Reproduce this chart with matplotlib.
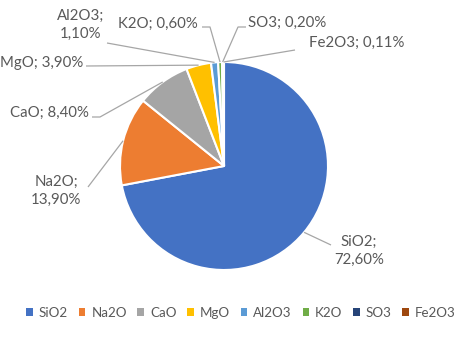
import matplotlib
matplotlib.use('Agg')
import matplotlib.pyplot as plt
from matplotlib.patches import Patch
import numpy as np

plt.rcParams['font.family'] = ['Lato', 'DejaVu Sans']

names = ['SiO2', 'Na2O', 'CaO', 'MgO', 'Al2O3', 'K2O', 'SO3', 'Fe2O3']
values = [72.60, 13.90, 8.40, 3.90, 1.10, 0.60, 0.20, 0.11]
colors = ['#4472C4', '#ED7D31', '#A5A5A5', '#FFC000',
          '#5B9BD5', '#70AD47', '#264478', '#9E480E']

def fmt(v):
    return f"{v:.2f}".replace('.', ',') + '%'

W, H = 474, 338
fig = plt.figure(figsize=(W / 100, H / 100), dpi=100)
ax = fig.add_axes([0, 0, 1, 1])

cx, cy, r = 224, H - 166, 104
wedges, _ = ax.pie(values, colors=colors, startangle=90, counterclock=False,
                   center=(cx, cy), radius=r, frame=True,
                   wedgeprops=dict(edgecolor='white', linewidth=1.5))
ax.set_xlim(0, W)
ax.set_ylim(0, H)
ax.set_aspect('equal')
ax.axis('off')

txt = '#595959'
lc = '#A6A6A6'
fs = 10.8

# label layout (image pixel coords): text x, text y, alignment, line path
layout = {
    'SiO2':  dict(xy=(334, 251), ha='left', path=[(331, 245)], two=True),
    'Na2O':  dict(xy=(56, 191), ha='center', path=[(88, 187)], two=True),
    'CaO':   dict(xy=(89, 113), ha='right', path=[(100, 117), (92, 117)], two=False),
    'MgO':   dict(xy=(83, 63), ha='right', path=[(86, 66)], two=False),
    'Al2O3': dict(xy=(81, 25), ha='center', path=[(107, 43)], two=True),
    'K2O':   dict(xy=(198, 24), ha='right', path=[(210, 27), (202, 27)], two=False),
    'SO3':   dict(xy=(248, 23), ha='left', path=[(238, 27), (246, 27)], two=False),
    'Fe2O3': dict(xy=(309, 43), ha='left', path=[(295, 50)], two=False),
}

for w, n, v in zip(wedges, names, values):
    lay = layout[n]
    mid = np.deg2rad((w.theta1 + w.theta2) / 2)
    px, py = cx + r * np.cos(mid), cy + r * np.sin(mid)
    xs = [px] + [p[0] for p in lay['path']]
    ys = [py] + [H - p[1] for p in lay['path']]
    ax.plot(xs, ys, color=lc, lw=0.9, solid_capstyle='butt')
    sep = '\n' if lay['two'] else ' '
    tx, ty = lay['xy']
    ax.text(tx, H - ty, f"{n};{sep}{fmt(v)}", ha=lay['ha'], va='center',
            fontsize=fs, color=txt, linespacing=1.4, multialignment='center')

handles = [Patch(facecolor=c, edgecolor='none') for c in colors]
ax.legend(handles, names, loc='center', bbox_to_anchor=(241 / W, 1 - 313 / H),
          bbox_transform=fig.transFigure, ncol=8, frameon=False, fontsize=9.6,
          labelcolor=txt, handlelength=0.5, handleheight=0.5, handletextpad=0.45,
          columnspacing=0.8, borderpad=0)

fig.savefig('out.png', dpi=100, facecolor='white')
